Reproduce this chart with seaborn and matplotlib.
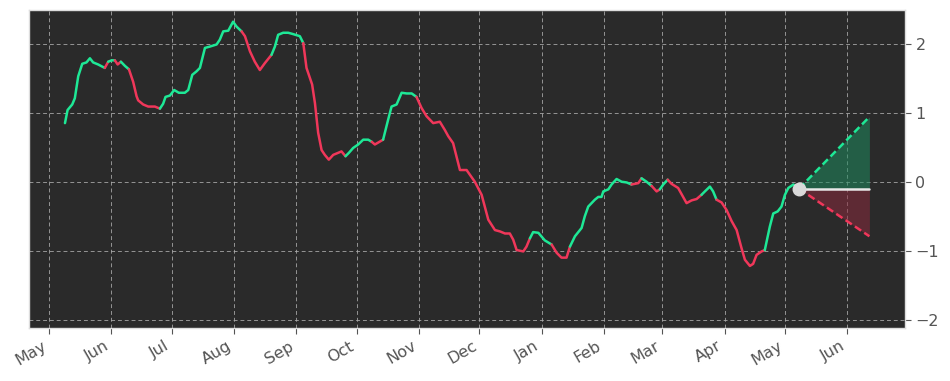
import matplotlib
matplotlib.use("Agg")
import matplotlib.pyplot as plt
import matplotlib.dates as mdates
import numpy as np
import pandas as pd
import seaborn as sns

# ---- data ----
start_date = "2023-05-01"
days = [8.0, 9.3, 11.6, 12.9, 14.6, 16.6, 18.7, 20.4, 22.0, 24.5,
        27.8, 29.5, 31.2, 32.8, 34.2, 35.8, 37.8, 39.8, 41.9, 43.6,
        44.4, 46.9, 49.4, 52.7, 55.2, 56.8, 58.0, 60.2, 62.3, 64.6,
        67.6, 69.3, 71.3, 73.4, 75.1, 77.6, 80.1, 83.4, 85.0, 86.7,
        89.2, 91.6, 93.3, 95.8, 97.5, 100.0, 102.4, 104.9, 107.4, 110.7,
        112.4, 114.0, 116.5, 119.0, 121.5, 124.8, 126.5, 128.1, 130.9, 132.3,
        133.9, 135.6, 137.2, 139.2, 141.4, 143.9, 145.5, 147.5, 149.2, 151.3,
        153.8, 156.3, 158.8, 160.5, 162.1, 166.2, 168.7, 170.4, 172.9, 175.4,
        177.9, 180.4, 182.8, 185.3, 187.8, 191.1, 194.4, 196.9, 198.6, 201.0,
        204.4, 207.7, 211.8, 215.2, 218.5, 221.8, 224.3, 226.8, 229.2, 230.9,
        232.6, 235.9, 237.5, 239.2, 240.8, 243.4, 246.6, 250.0, 252.5, 254.9,
        257.4, 259.1, 261.6, 264.9, 266.5, 268.2, 271.5, 273.2, 274.8, 275.7,
        278.2, 279.8, 282.3, 284.8, 287.3, 289.7, 293.1, 294.7, 297.2, 299.7,
        302.2, 303.8, 305.5, 307.7, 309.6, 312.9, 317.1, 319.6, 322.1, 324.5,
        326.2, 328.7, 330.3, 332.0, 334.5, 337.0, 339.5, 342.0, 344.4, 346.1,
        348.6, 350.2, 351.9, 354.4, 356.0, 358.5, 360.2, 362.4, 364.3, 366.0,
        367.7, 370.2, 373.0]
values = [0.85, 1.04, 1.12, 1.21, 1.53, 1.71, 1.73, 1.79, 1.73, 1.70,
          1.65, 1.74, 1.76, 1.76, 1.70, 1.74, 1.68, 1.63, 1.45, 1.24,
          1.18, 1.12, 1.09, 1.09, 1.06, 1.13, 1.23, 1.25, 1.33, 1.29,
          1.29, 1.33, 1.55, 1.60, 1.65, 1.94, 1.96, 1.99, 2.06, 2.18,
          2.19, 2.32, 2.25, 2.18, 2.11, 1.89, 1.74, 1.62, 1.72, 1.84,
          1.96, 2.13, 2.16, 2.16, 2.14, 2.11, 2.01, 1.65, 1.41, 1.14,
          0.71, 0.46, 0.39, 0.32, 0.39, 0.42, 0.44, 0.37, 0.42, 0.49,
          0.54, 0.61, 0.61, 0.58, 0.54, 0.61, 0.90, 1.09, 1.12, 1.29,
          1.28, 1.28, 1.23, 1.07, 0.95, 0.85, 0.87, 0.75, 0.66, 0.56,
          0.17, 0.17, 0.00, -0.19, -0.55, -0.70, -0.72, -0.75, -0.75, -0.84,
          -0.99, -1.01, -0.94, -0.82, -0.73, -0.74, -0.85, -0.91, -1.03, -1.10,
          -1.10, -0.94, -0.79, -0.67, -0.50, -0.36, -0.26, -0.22, -0.22, -0.14,
          -0.11, -0.04, 0.04, 0.00, -0.01, -0.04, -0.02, 0.05, 0.00, -0.06,
          -0.14, -0.11, -0.04, 0.03, -0.03, -0.09, -0.31, -0.27, -0.25, -0.19,
          -0.14, -0.07, -0.14, -0.26, -0.30, -0.41, -0.57, -0.70, -0.96, -1.13,
          -1.22, -1.19, -1.06, -1.01, -0.99, -0.65, -0.46, -0.43, -0.36, -0.19,
          -0.09, -0.04, -0.10]
# trend of the segment that starts at each point: g = rising (green), r = falling (red)
trend = list("gggggggggg" "rggrrggrrr" "rrrrgggggg" "gggggggggg"
             "gggrrrrrrg" "ggggggrrrr" "rrrrrrrggg" "gggrrggggg"
             "ggrrrrrrrr" "rrrrrrrrrr" "rrrggggrrr" "rggggggggg"
             "gggggrrggr" "rggrrrrrrg" "gggrrrrrrr" "rrrrgggggg"
             "ggg")

proj_days = [373.0, 408.0]
proj_mid = [-0.10, -0.10]
proj_high = [-0.10, 0.94]
proj_low = [-0.10, -0.79]

GREEN = "#1ee896"
RED = "#f0375a"
BG = "#2a2a2a"

t0 = pd.Timestamp(start_date)
dates = t0 + pd.to_timedelta(days, unit="D")
df = pd.DataFrame({"date": dates, "value": values, "trend": trend[:len(values)]})

pdates = t0 + pd.to_timedelta(proj_days, unit="D")

sns.set_theme(style="dark")
plt.rcParams["font.family"] = ["DejaVu Sans"]

fig = plt.figure(figsize=(9.5, 3.81), dpi=100, facecolor="white")
ax = fig.add_axes([0.0305, 0.1391, 0.9221, 0.8347])
ax.set_facecolor(BG)

# colored runs
n = len(df)
i = 0
while i < n - 1:
    c = df["trend"].iloc[i]
    j = i
    while j < n - 1 and df["trend"].iloc[j] == c:
        j += 1
    seg = df.iloc[i:j + 1]
    sns.lineplot(data=seg, x="date", y="value", ax=ax, color=GREEN if c == "g" else RED,
                 linewidth=1.8, estimator=None, sort=False, legend=False)
    i = j

# projection cone
ax.fill_between(pdates, proj_mid, proj_high, color="#1f8a5e", alpha=0.55, linewidth=0, zorder=2)
ax.fill_between(pdates, proj_low, proj_mid, color="#8a2a3e", alpha=0.55, linewidth=0, zorder=2)
sns.lineplot(x=pdates, y=proj_high, ax=ax, color=GREEN, linewidth=1.8, linestyle=(0, (3, 1.5)))
sns.lineplot(x=pdates, y=proj_low, ax=ax, color=RED, linewidth=1.8, linestyle=(0, (3, 1.5)))
sns.lineplot(x=pdates, y=proj_mid, ax=ax, color="#e8e8e8", linewidth=1.8)
ax.plot([pdates[0]], [proj_mid[0]], "o", color="#d9d9d9", markersize=9, zorder=5)

ax.set_xlim(t0 - pd.Timedelta(days=9.9), t0 + pd.Timedelta(days=425.7))
ax.set_ylim(-2.12, 2.49)
ax.set_yticks([-2, -1, 0, 1, 2])
ax.yaxis.tick_right()
ax.xaxis.set_major_locator(mdates.MonthLocator())
ax.xaxis.set_major_formatter(mdates.DateFormatter("%b"))
ax.set_xlabel("")
ax.set_ylabel("")
ax.grid(True, color="#b0b0b0", linestyle=(0, (4, 3)), linewidth=0.7, alpha=0.8)
ax.tick_params(axis="both", colors="#555555", labelsize=11.5, length=4, width=0.8,
               bottom=True, right=True, left=False)
for lbl in ax.get_xticklabels():
    lbl.set_rotation(30)
    lbl.set_ha("right")
for s in ax.spines.values():
    s.set_visible(True)
    s.set_color("#dddddd")
    s.set_linewidth(1.0)

fig.savefig("out.png", dpi=100, facecolor="white")
